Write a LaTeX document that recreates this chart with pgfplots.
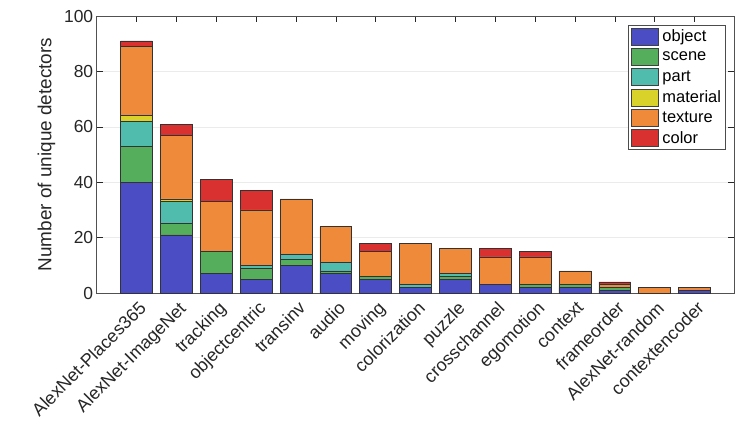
\documentclass[border=0pt]{standalone}
\usepackage{pgfplots}
\pgfplotsset{compat=1.18}
\usepackage{fontspec}
\setmainfont{Liberation Sans}
\definecolor{cobj}{HTML}{4A4DC3}
\definecolor{cscn}{HTML}{55AE5B}
\definecolor{cpart}{HTML}{4FBCAE}
\definecolor{cmat}{HTML}{D8D22A}
\definecolor{ctex}{HTML}{EF8A3B}
\definecolor{ccol}{HTML}{D93030}
\definecolor{axgray}{HTML}{262626}
\begin{document}
\begin{tikzpicture}
\useasboundingbox (-96.7bp,-131bp) rectangle (650.3bp,293bp);
\begin{axis}[
  at={(0,0)}, anchor=south west,
  scale only axis,
  width=637.6bp, height=277bp,
  ybar stacked,
  bar width=0.8,
  xmin=-1, xmax=15,
  ymin=0, ymax=100,
  xtick={0,...,14},
  xticklabels={AlexNet-Places365,AlexNet-ImageNet,tracking,objectcentric,transinv,audio,moving,colorization,puzzle,crosschannel,egomotion,context,frameorder,AlexNet-random,contextencoder},
  ytick={0,20,...,100},
  tick align=inside,
  major tick length=6.5bp,
  tick style={axgray, line width=0.5bp},
  axis line style={axgray!80, line width=0.6bp},
  ymajorgrids,
  major grid style={black!8, line width=0.6bp},
  /pgf/number format/assume math mode=true,
  ticklabel style={font=\fontsize{17.5}{20}\selectfont, text=axgray},
  xticklabel style={rotate=45, anchor=north east, inner sep=1bp, font=\fontsize{18}{20}\selectfont, xshift=2bp},
  xticklabel shift=7bp,
  ylabel={Number of unique detectors},
  ylabel style={font=\fontsize{19}{22}\selectfont, text=axgray, yshift=2bp},
  legend cell align=left,
  legend style={at={(0.9865,0.9675)}, anchor=north east, draw=black!70, line width=0.5bp,
    font=\fontsize{16.5}{19}\selectfont, row sep=2.8bp, inner sep=2.5bp},
  legend image code/.code={\draw[#1, draw=black!75, line width=0.5bp] (0bp,-8.5bp) rectangle (27bp,8.5bp); \path (29bp,0bp);},
  every axis plot/.append style={draw=black!80, line width=0.6bp},
]
\addplot[fill=cobj] coordinates {(0,40) (1,21) (2,7) (3,5) (4,10) (5,7) (6,5) (7,2) (8,5) (9,3) (10,2) (11,2) (12,1) (13,0) (14,1)};
\addplot[fill=cscn] coordinates {(0,13) (1,4) (2,8) (3,4) (4,2) (5,1) (6,1) (7,0) (8,1) (9,0) (10,1) (11,1) (12,1) (13,0) (14,0)};
\addplot[fill=cpart] coordinates {(0,9) (1,8) (2,0) (3,1) (4,2) (5,3) (6,0) (7,1) (8,1) (9,0) (10,0) (11,0) (12,0) (13,0) (14,0)};
\addplot[fill=cmat] coordinates {(0,2) (1,1) (2,0) (3,0) (4,0) (5,0) (6,0) (7,0) (8,0) (9,0) (10,0) (11,0) (12,0) (13,0) (14,0)};
\addplot[fill=ctex] coordinates {(0,25) (1,23) (2,18) (3,20) (4,20) (5,13) (6,9) (7,15) (8,9) (9,10) (10,10) (11,5) (12,1) (13,2) (14,1)};
\addplot[fill=ccol] coordinates {(0,2) (1,4) (2,8) (3,7) (4,0) (5,0) (6,3) (7,0) (8,0) (9,3) (10,2) (11,0) (12,1) (13,0) (14,0)};
\legend{object,scene,part,material,texture,color}
\end{axis}
\end{tikzpicture}
\end{document}
